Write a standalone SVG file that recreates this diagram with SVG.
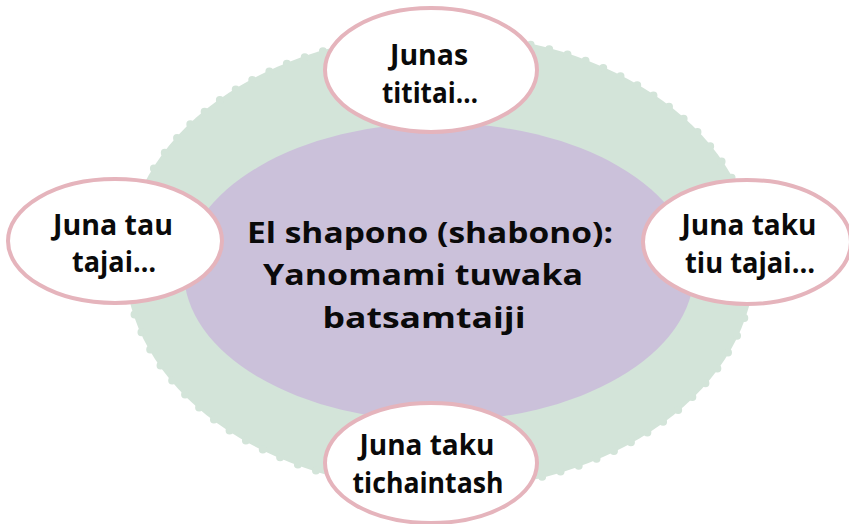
<svg xmlns="http://www.w3.org/2000/svg" width="849" height="524" viewBox="0 0 849 524">
<style>
.bg{fill:#d3e4d9}
.bumps{fill:none;stroke:#d3e4d9;stroke-width:8;stroke-linecap:round;stroke-dasharray:0 19.08}
.core{fill:#cbc1da}
.node{fill:#ffffff;stroke:#e5b4bc;stroke-width:4}
.t{font-family:"Open Sans","Liberation Sans",Arial,sans-serif;font-weight:700;font-size:29px;fill:#0a0a0a;text-anchor:middle}
</style>
<g id="background">
<ellipse class="bg" cx="440" cy="262" rx="315" ry="228"/>
<ellipse class="bumps" cx="440" cy="262" rx="314" ry="227"/>
</g>
<g id="center">
<ellipse class="core" cx="439" cy="272" rx="255" ry="149"/>
<text class="t" x="430" y="243" textLength="366" lengthAdjust="spacingAndGlyphs">El shapono (shabono):</text>
<text class="t" x="423" y="285" textLength="320" lengthAdjust="spacingAndGlyphs">Yanomami tuwaka</text>
<text class="t" x="424" y="328" textLength="203" lengthAdjust="spacingAndGlyphs">batsamtaiji</text>
</g>
<g id="connectors"></g>
<g id="node-top">
<ellipse class="node" cx="431" cy="70" rx="106" ry="62"/>
<text class="t" x="429" y="65" textLength="78" lengthAdjust="spacingAndGlyphs">Junas</text>
<text class="t" x="430" y="103" textLength="96" lengthAdjust="spacingAndGlyphs">tititai…</text>
</g>
<g id="node-left">
<ellipse class="node" cx="115" cy="241" rx="107" ry="62"/>
<text class="t" x="113" y="235" textLength="120" lengthAdjust="spacingAndGlyphs">Juna tau</text>
<text class="t" x="114" y="272" textLength="84" lengthAdjust="spacingAndGlyphs">tajai…</text>
</g>
<g id="node-right">
<ellipse class="node" cx="747" cy="242" rx="104" ry="62"/>
<text class="t" x="749" y="235" textLength="135" lengthAdjust="spacingAndGlyphs">Juna taku</text>
<text class="t" x="750" y="273" textLength="130" lengthAdjust="spacingAndGlyphs">tiu tajai…</text>
</g>
<g id="node-bottom">
<ellipse class="node" cx="431" cy="463" rx="106" ry="60"/>
<text class="t" x="427" y="455" textLength="135" lengthAdjust="spacingAndGlyphs">Juna taku</text>
<text class="t" x="428" y="493" textLength="151" lengthAdjust="spacingAndGlyphs">tichaintash</text>
</g>
</svg>
